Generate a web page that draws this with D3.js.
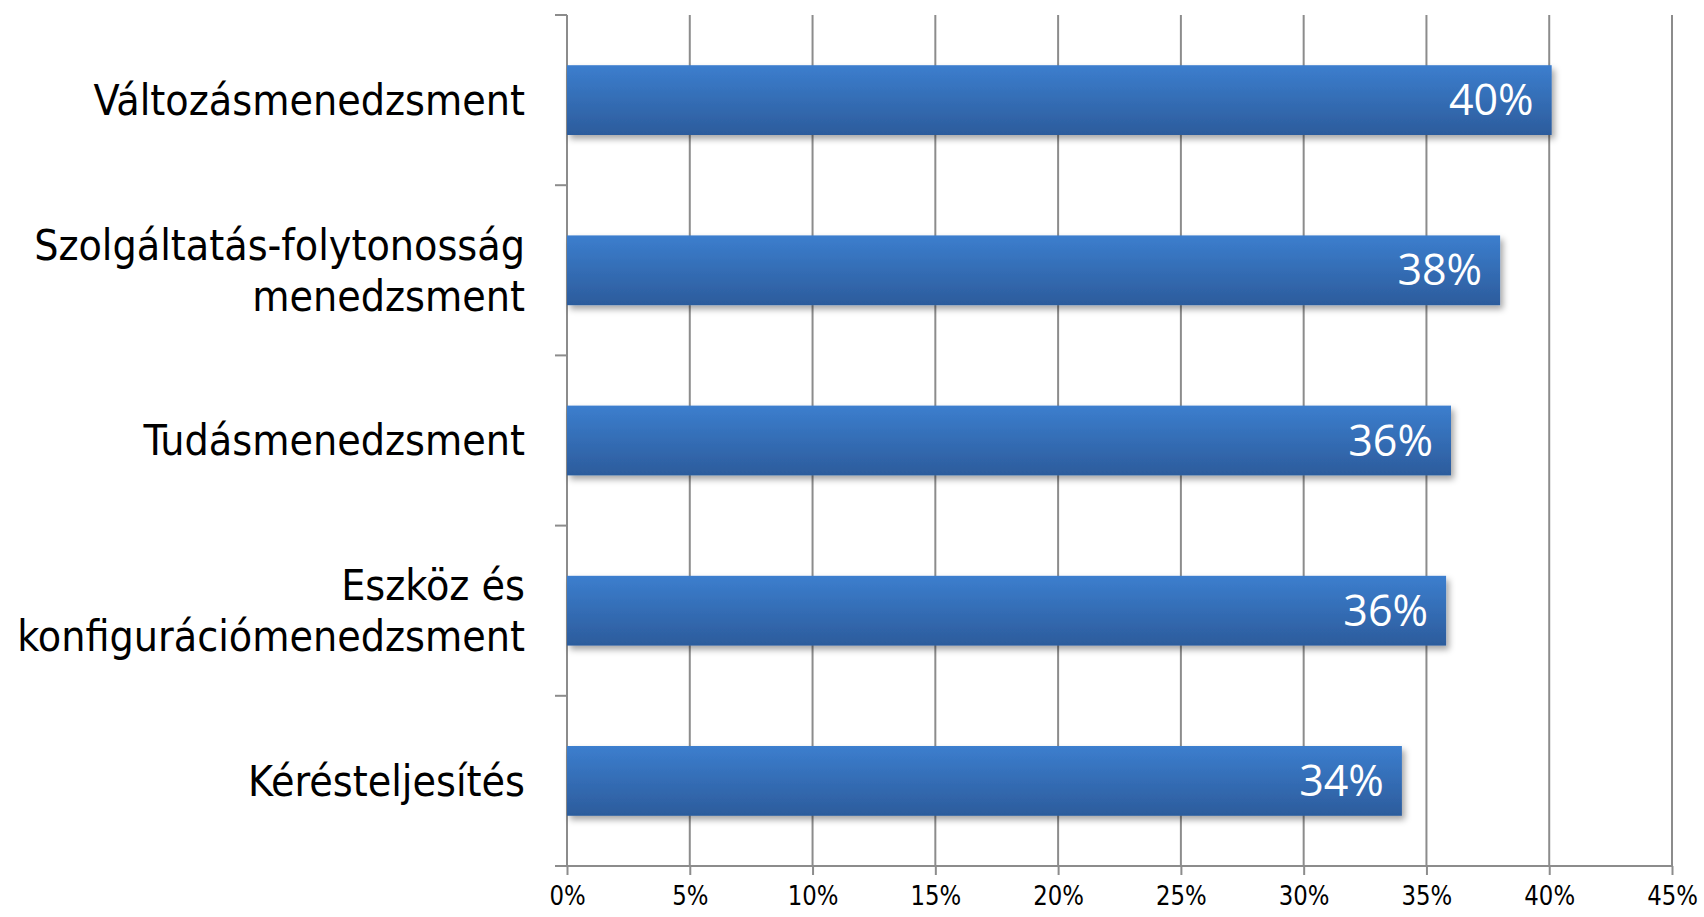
<!DOCTYPE html>
<html>
<head>
<meta charset="utf-8">
<script src="https://cdn.jsdelivr.net/npm/d3@7"></script>
<style>
  body { margin: 0; background: #fff; }
  .cat-label { font-family: "Liberation Sans Narrow", "DejaVu Sans Condensed", sans-serif; font-size: 42.5px; fill: #000; }
  .tick-label { font-family: "Liberation Sans Narrow", "DejaVu Sans Condensed", sans-serif; font-size: 27px; fill: #000; }
  .value-label { font-family: "Open Sans", "DejaVu Sans", sans-serif; font-size: 43px; fill: #fff; }
</style>
</head>
<body>
<svg id="chart" width="1704" height="917"></svg>
<script>
// categories, top to bottom (multi-line labels split on '|')
const categories = [
  "Változásmenedzsment",
  "Szolgáltatás-folytonosság|menedzsment",
  "Tudásmenedzsment",
  "Eszköz és|konfigurációmenedzsment",
  "Kérésteljesítés"
];
const values = [0.401, 0.38, 0.36, 0.358, 0.34];
const xTicks = [0, 0.05, 0.10, 0.15, 0.20, 0.25, 0.30, 0.35, 0.40, 0.45];

const MARGIN = { top: 15, right: 32, bottom: 51, left: 567 };
const WIDTH = 1704, HEIGHT = 917;
const innerW = WIDTH - MARGIN.left - MARGIN.right;
const innerH = HEIGHT - MARGIN.top - MARGIN.bottom;
const GRID = "#8c8c8c";

const svg = d3.select("#chart");

// gradient + shadow for the bars
const defs = svg.append("defs");
const grad = defs.append("linearGradient")
  .attr("id", "barGrad")
  .attr("x1", 0).attr("y1", 0).attr("x2", 0).attr("y2", 1);
grad.append("stop").attr("offset", "0%").attr("stop-color", "#3c7ece");
grad.append("stop").attr("offset", "100%").attr("stop-color", "#2c5c9c");

const shadow = defs.append("filter").attr("id", "shadow")
  .attr("x", "-5%").attr("y", "-20%").attr("width", "110%").attr("height", "150%");
shadow.append("feDropShadow")
  .attr("dx", 3).attr("dy", 4).attr("stdDeviation", 3)
  .attr("flood-color", "#000").attr("flood-opacity", 0.35);

const g = svg.append("g")
  .attr("transform", `translate(${MARGIN.left},${MARGIN.top})`);

// scales
const x = d3.scaleLinear().domain([0, 0.45]).range([0, innerW]);
const y = d3.scaleBand()
  .domain(categories)
  .range([0, innerH])
  .paddingInner(0.59)
  .paddingOuter(0.295);

// vertical gridlines
g.selectAll("line.grid")
  .data(xTicks.slice(1))
  .enter()
  .append("line")
  .attr("class", "grid")
  .attr("x1", d => x(d)).attr("x2", d => x(d))
  .attr("y1", 0).attr("y2", innerH)
  .attr("stroke", GRID).attr("stroke-width", 2);

// bottom axis
const xAxis = d3.axisBottom(x)
  .tickValues(xTicks)
  .tickFormat(d3.format(".0%"))
  .tickSize(9)
  .tickPadding(11);
const xg = g.append("g")
  .attr("transform", `translate(0,${innerH})`)
  .call(xAxis);
xg.select(".domain").attr("stroke", GRID).attr("stroke-width", 2)
  .attr("d", `M${-12},0H${innerW}`);
xg.selectAll(".tick line").attr("stroke", GRID).attr("stroke-width", 2);
// condensed look: squeeze the labels a little
xg.selectAll(".tick text")
  .attr("class", "tick-label")
  .attr("font-family", null).attr("font-size", null)
  .attr("transform", "scale(0.94,1)");

// left axis line + boundary ticks
g.append("line")
  .attr("x1", 0).attr("x2", 0).attr("y1", 0).attr("y2", innerH)
  .attr("stroke", GRID).attr("stroke-width", 2);
const boundaries = categories.map((c, i) => y.step() * i).concat([innerH]);
g.selectAll("line.ytick")
  .data(boundaries)
  .enter()
  .append("line")
  .attr("class", "ytick")
  .attr("x1", -12).attr("x2", 0)
  .attr("y1", d => d).attr("y2", d => d)
  .attr("stroke", GRID).attr("stroke-width", 2);

// bars
g.selectAll("rect.bar")
  .data(values)
  .enter()
  .append("rect")
  .attr("class", "bar")
  .attr("x", 0)
  .attr("y", (d, i) => y(categories[i]))
  .attr("width", d => x(d))
  .attr("height", y.bandwidth())
  .attr("fill", "url(#barGrad)")
  .attr("filter", "url(#shadow)");

// value labels
g.selectAll("text.value-label")
  .data(values)
  .enter()
  .append("text")
  .attr("class", "value-label")
  .attr("x", d => x(d) - 18)
  .attr("y", (d, i) => y(categories[i]) + y.bandwidth() / 2)
  .attr("dy", "0.35em")
  .attr("text-anchor", "end")
  .text(d => d3.format(".0%")(d));

// category labels
const LINE_H = 51;
categories.forEach(c => {
  const lines = c.split("|");
  const cy = y(c) + y.bandwidth() / 2;
  const t = g.append("text")
    .attr("class", "cat-label")
    .attr("text-anchor", "end")
    .attr("x", -42);
  lines.forEach((ln, k) => {
    t.append("tspan")
      .attr("x", -42)
      .attr("y", cy + (k - (lines.length - 1) / 2) * LINE_H)
      .attr("dy", "0.35em")
      .text(ln);
  });
});
</script>
</body>
</html>
